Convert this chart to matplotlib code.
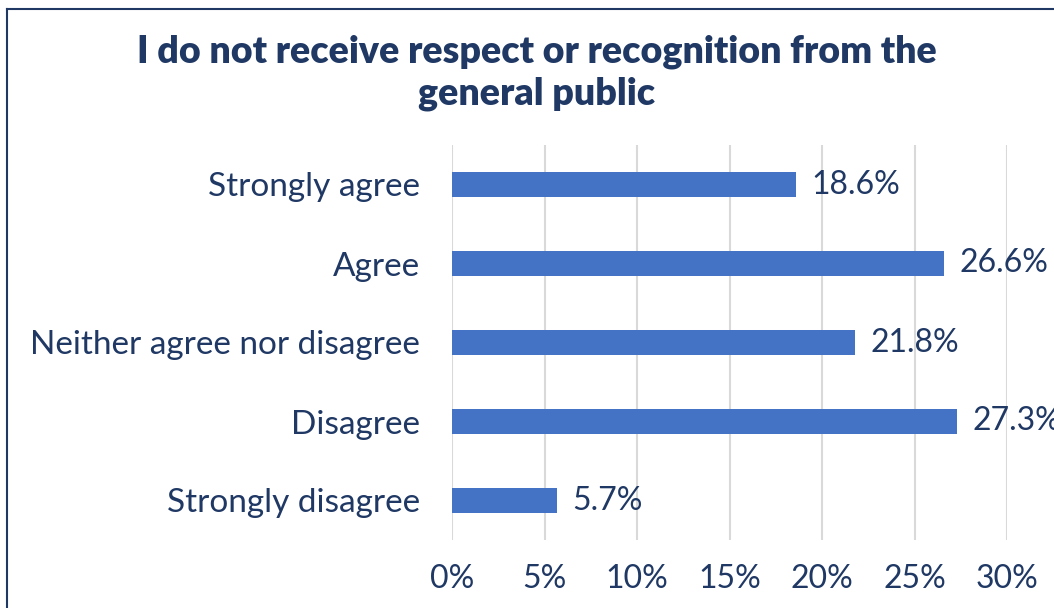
import matplotlib
matplotlib.use("Agg")
import matplotlib.pyplot as plt
from matplotlib.lines import Line2D

categories = ["Strongly agree", "Agree", "Neither agree nor disagree",
              "Disagree", "Strongly disagree"]
values = [18.6, 26.6, 21.8, 27.3, 5.7]
xticks = [0, 5, 10, 15, 20, 25, 30]
xtick_labels = [f"{t}%" for t in xticks]
title = "I do not receive respect or recognition from the\ngeneral public"

navy = "#1F3864"
bar_color = "#4472C4"
grid_color = "#D9D9D9"

plt.rcParams["font.family"] = ["Lato", "DejaVu Sans"]

fig = plt.figure(figsize=(10.54, 6.08), dpi=100)
ax = fig.add_axes([452 / 1054, 1 - 540 / 608, (1007 - 452) / 1054, (540 - 145) / 608])

ypos = list(range(len(categories)))
ax.barh(ypos, values, height=0.31, color=bar_color, zorder=3)
ax.set_ylim(len(categories) - 0.5, -0.5)
ax.set_xlim(0, 30)

for y, v in zip(ypos, values):
    ax.annotate(f"{v:.1f}%", xy=(v, y), xytext=(11, 0), textcoords="offset points",
                va="center", ha="left", fontsize=23, color=navy,
                annotation_clip=False)

ax.set_yticks(ypos)
ax.set_yticklabels(categories, fontsize=24, color=navy)
ax.set_xticks(xticks)
ax.set_xticklabels(xtick_labels, fontsize=23, color=navy)
ax.tick_params(axis="both", length=0)
ax.tick_params(axis="y", pad=23)
ax.tick_params(axis="x", pad=17)

ax.grid(axis="x", color=grid_color, linewidth=1.5, zorder=0)
for s in ax.spines.values():
    s.set_visible(False)

fig.text(537 / 1054, 1 - 73 / 608, title, ha="center", va="center",
         fontsize=27, fontweight="heavy", color=navy, linespacing=1.26)

# Chart frame (left and top edges)
fig.add_artist(Line2D([7 / 1054, 7 / 1054], [0, 1 - 9 / 608],
                      transform=fig.transFigure, color=navy, linewidth=1.5))
fig.add_artist(Line2D([7 / 1054, 1], [1 - 9 / 608, 1 - 9 / 608],
                      transform=fig.transFigure, color=navy, linewidth=1.5))

fig.savefig("out.png", dpi=100, facecolor="white")
